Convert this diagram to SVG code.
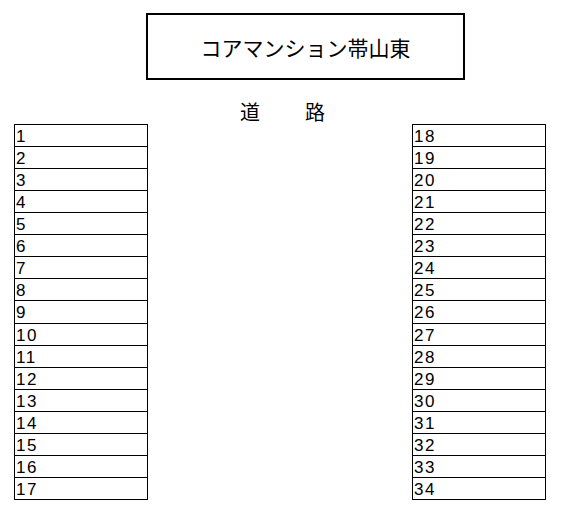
<svg xmlns="http://www.w3.org/2000/svg" width="565" height="521" viewBox="0 0 565 521">
<style>
.cell{fill:#fff;stroke:#000;stroke-width:1}
.num{font-family:"Liberation Sans",Arial,sans-serif;font-size:17px;letter-spacing:1.5px;fill:#000}
.title{font-family:"Noto Sans CJK JP","Noto Sans CJK SC",sans-serif;font-size:21px;fill:#000}
.road{font-family:"Noto Sans CJK JP","Noto Sans CJK SC",sans-serif;font-size:20px;fill:#000}
</style>
<rect width="565" height="521" fill="#fff"/>
<g id="title">
<rect x="147" y="14" width="317" height="65" fill="#fff" stroke="#000" stroke-width="2"/>
<text class="title" x="305.5" y="56" text-anchor="middle">コアマンション帯山東</text>
</g>
<g id="road">
<text class="road" x="250" y="120" text-anchor="middle">道</text>
<text class="road" x="315" y="120" text-anchor="middle">路</text>
</g>
<g id="left">
<g id="n1"><rect class="cell" x="14.5" y="124.5" width="133" height="22"/><text class="num" x="16" y="142">1</text></g>
<g id="n2"><rect class="cell" x="14.5" y="146.5" width="133" height="22"/><text class="num" x="16" y="164">2</text></g>
<g id="n3"><rect class="cell" x="14.5" y="168.5" width="133" height="22"/><text class="num" x="16" y="186">3</text></g>
<g id="n4"><rect class="cell" x="14.5" y="190.5" width="133" height="22"/><text class="num" x="16" y="208">4</text></g>
<g id="n5"><rect class="cell" x="14.5" y="212.5" width="133" height="22"/><text class="num" x="16" y="230">5</text></g>
<g id="n6"><rect class="cell" x="14.5" y="234.5" width="133" height="22"/><text class="num" x="16" y="252">6</text></g>
<g id="n7"><rect class="cell" x="14.5" y="256.5" width="133" height="22"/><text class="num" x="16" y="274">7</text></g>
<g id="n8"><rect class="cell" x="14.5" y="278.5" width="133" height="22"/><text class="num" x="16" y="296">8</text></g>
<g id="n9"><rect class="cell" x="14.5" y="300.5" width="133" height="23"/><text class="num" x="16" y="318">9</text></g>
<g id="n10"><rect class="cell" x="14.5" y="323.5" width="133" height="22"/><text class="num" x="16" y="341">10</text></g>
<g id="n11"><rect class="cell" x="14.5" y="345.5" width="133" height="22"/><text class="num" x="16" y="363">11</text></g>
<g id="n12"><rect class="cell" x="14.5" y="367.5" width="133" height="22"/><text class="num" x="16" y="385">12</text></g>
<g id="n13"><rect class="cell" x="14.5" y="389.5" width="133" height="22"/><text class="num" x="16" y="407">13</text></g>
<g id="n14"><rect class="cell" x="14.5" y="411.5" width="133" height="22"/><text class="num" x="16" y="429">14</text></g>
<g id="n15"><rect class="cell" x="14.5" y="433.5" width="133" height="22"/><text class="num" x="16" y="451">15</text></g>
<g id="n16"><rect class="cell" x="14.5" y="455.5" width="133" height="22"/><text class="num" x="16" y="473">16</text></g>
<g id="n17"><rect class="cell" x="14.5" y="477.5" width="133" height="22"/><text class="num" x="16" y="495">17</text></g>
</g>
<g id="right">
<g id="n18"><rect class="cell" x="412.5" y="124.5" width="133" height="22"/><text class="num" x="414" y="142">18</text></g>
<g id="n19"><rect class="cell" x="412.5" y="146.5" width="133" height="22"/><text class="num" x="414" y="164">19</text></g>
<g id="n20"><rect class="cell" x="412.5" y="168.5" width="133" height="22"/><text class="num" x="414" y="186">20</text></g>
<g id="n21"><rect class="cell" x="412.5" y="190.5" width="133" height="22"/><text class="num" x="414" y="208">21</text></g>
<g id="n22"><rect class="cell" x="412.5" y="212.5" width="133" height="22"/><text class="num" x="414" y="230">22</text></g>
<g id="n23"><rect class="cell" x="412.5" y="234.5" width="133" height="22"/><text class="num" x="414" y="252">23</text></g>
<g id="n24"><rect class="cell" x="412.5" y="256.5" width="133" height="22"/><text class="num" x="414" y="274">24</text></g>
<g id="n25"><rect class="cell" x="412.5" y="278.5" width="133" height="22"/><text class="num" x="414" y="296">25</text></g>
<g id="n26"><rect class="cell" x="412.5" y="300.5" width="133" height="23"/><text class="num" x="414" y="318">26</text></g>
<g id="n27"><rect class="cell" x="412.5" y="323.5" width="133" height="22"/><text class="num" x="414" y="341">27</text></g>
<g id="n28"><rect class="cell" x="412.5" y="345.5" width="133" height="22"/><text class="num" x="414" y="363">28</text></g>
<g id="n29"><rect class="cell" x="412.5" y="367.5" width="133" height="22"/><text class="num" x="414" y="385">29</text></g>
<g id="n30"><rect class="cell" x="412.5" y="389.5" width="133" height="22"/><text class="num" x="414" y="407">30</text></g>
<g id="n31"><rect class="cell" x="412.5" y="411.5" width="133" height="22"/><text class="num" x="414" y="429">31</text></g>
<g id="n32"><rect class="cell" x="412.5" y="433.5" width="133" height="22"/><text class="num" x="414" y="451">32</text></g>
<g id="n33"><rect class="cell" x="412.5" y="455.5" width="133" height="22"/><text class="num" x="414" y="473">33</text></g>
<g id="n34"><rect class="cell" x="412.5" y="477.5" width="133" height="22"/><text class="num" x="414" y="495">34</text></g>
</g>
</svg>
